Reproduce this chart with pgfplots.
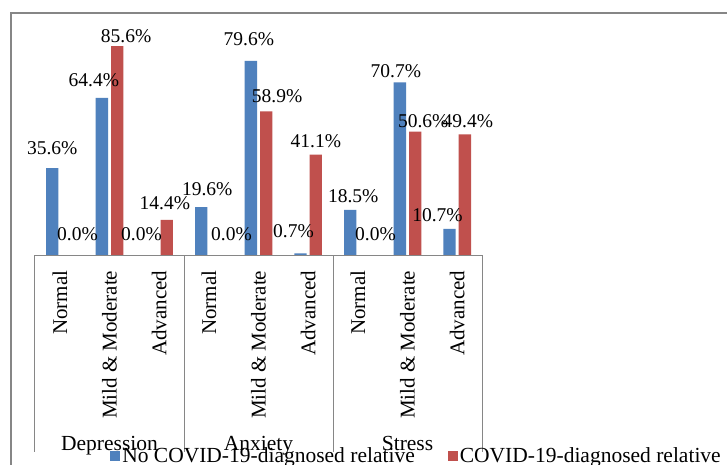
\documentclass[border=0pt]{standalone}
\usepackage{fontspec}
\setmainfont{Liberation Serif}
\usepackage{pgfplots}
\usepackage{pgfplotstable}
\pgfplotsset{compat=1.18}
\definecolor{mblue}{RGB}{79,129,189}
\definecolor{mred}{RGB}{192,80,77}
\definecolor{lgray}{RGB}{134,134,134}
\pgfplotstableread{
x y dx dy
0 35.6 0 13
1 64.4 -8 11
2 0 -10 14
3 19.6 6 11
4 79.6 -2 15
5 0.7 -7 15
6 18.5 3 7
7 70.7 -4 5
8 10.7 -12 7
}\noCovid
\pgfplotstableread{
x y dx dy
0 0 10 14
1 85.6 9 3
2 14.4 -2 10
3 0 15 14
4 58.9 11 8
5 41.1 0 7
6 0 10 14
7 50.6 8 4
8 49.4 3 6
}\covid
\begin{document}
\begin{tikzpicture}[x=1pt,y=1pt]
\useasboundingbox (0,0) rectangle (727,464);
\fill[white] (0,0) rectangle (727,464);
\draw[lgray, line width=1.2pt] (11,-5) -- (11,451) -- (740,451);
\begin{axis}[
  at={(35pt,209pt)}, anchor=south west,
  x=49.67pt, y=2.44pt,
  xmin=-0.5, xmax=8.5, ymin=0, ymax=90,
  hide y axis,
  axis line style={draw=none},
  tick style={draw=none},
  clip=false,
  ybar=3pt, bar width=12.3pt,
  xtick={0,...,8},
  xticklabels={Normal,Mild \& Moderate,Advanced,Normal,Mild \& Moderate,Advanced,Normal,Mild \& Moderate,Advanced},
  x tick label style={rotate=90, anchor=east, font=\fontsize{21}{23}\selectfont},
  xticklabel shift=8pt,
  /pgf/number format/assume math mode=true,
  visualization depends on={\thisrow{dx} \as \dx},
  visualization depends on={\thisrow{dy} \as \dy},
  nodes near coords={\pgfmathprintnumber[fixed,fixed zerofill,precision=1]{\pgfplotspointmeta}\%},
  nodes near coords style={font=\fontsize{19.5}{21}\selectfont, inner sep=0pt, xshift=\dx pt, yshift=\dy pt, text=black},
  legend style={draw=none, fill=none, at={(axis description cs:0.168,-0.915)}, anchor=west,
    legend columns=2, font=\fontsize{21.5}{23}\selectfont, inner sep=0pt,
    /tikz/every even column/.append style={column sep=31pt}},
  legend image code/.code={\fill[#1] (0pt,-5pt) rectangle (10pt,5pt);},
]
\addplot[fill=mblue, draw=none] table[x=x, y=y] {\noCovid};
\addplot[fill=mred, draw=none] table[x=x, y=y] {\covid};
\legend{No COVID-19-diagnosed relative, COVID-19-diagnosed relative}
\draw[lgray, line width=1pt] (axis cs:-0.5,0) -- (axis cs:8.5,0);
\pgfplotsinvokeforeach{-0.5,2.5,5.5,8.5}{
  \draw[lgray, line width=1pt] (axis cs:#1,0) -- ++(0pt,-197pt);
}
\node[anchor=base, font=\fontsize{21.5}{23}\selectfont, yshift=-195pt] at (axis cs:1,0) {Depression};
\node[anchor=base, font=\fontsize{21.5}{23}\selectfont, yshift=-195pt] at (axis cs:4,0) {Anxiety};
\node[anchor=base, font=\fontsize{21.5}{23}\selectfont, yshift=-195pt] at (axis cs:7,0) {Stress};
\end{axis}
\end{tikzpicture}
\end{document}
